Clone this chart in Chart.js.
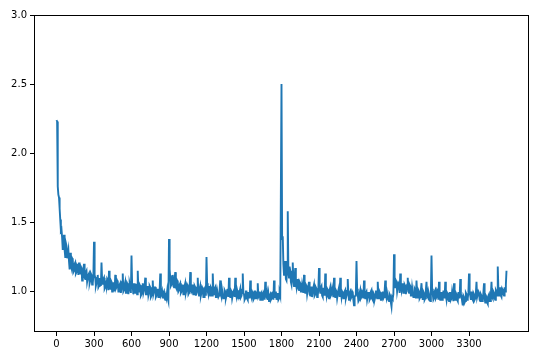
<!DOCTYPE html>
<html>
<head>
<meta charset="utf-8">
<script src="https://cdn.jsdelivr.net/npm/chart.js@4/dist/chart.umd.min.js"></script>
<style>
  body { margin: 0; background: #fff; }
  #wrap { width: 540px; height: 360px; }
</style>
</head>
<body>
<div id="wrap"><canvas id="losschart"></canvas></div>
<script>
// loss: steps 0, 10, 20 ... 3600
var sampleEvery = 10;
var loss = [
  2.24, 1.76, 1.68, 1.52, 1.45, 1.30, 1.41, 1.25, 1.33, 1.24,
  1.22, 1.28, 1.17, 1.23, 1.15, 1.21, 1.14, 1.20, 1.21, 1.13,
  1.17, 1.10, 1.20, 1.09, 1.15, 1.07, 1.13, 1.08, 1.12, 1.06,
  1.36, 1.10, 1.06, 1.12, 1.04, 1.09, 1.21, 1.05, 1.10, 1.03,
  1.04, 1.08, 1.15, 1.02, 1.07, 1.01, 1.06, 1.12, 1.03, 1.07,
  1.00, 1.06, 1.02, 1.13, 1.01, 1.07, 0.99, 1.05, 1.02, 1.04,
  1.26, 1.03, 1.06, 0.99, 1.05, 1.15, 1.00, 1.04, 0.98, 1.06,
  1.01, 1.10, 0.98, 1.04, 0.99, 1.03, 0.97, 1.08, 1.00, 1.03,
  0.97, 1.02, 0.96, 1.13, 0.98, 0.95, 1.00, 0.94, 0.96, 0.95,
  1.38, 1.10, 1.05, 1.12, 1.03, 1.14, 1.02, 1.07, 1.01, 1.06,
  1.00, 1.05, 0.98, 1.06, 1.01, 1.04, 0.99, 1.14, 1.00, 1.05,
  0.98, 1.03, 1.00, 1.10, 0.97, 1.04, 0.99, 1.02, 0.96, 1.03,
  1.25, 1.00, 1.04, 0.97, 1.02, 1.13, 0.98, 1.03, 0.96, 1.01,
  0.97, 1.08, 0.96, 1.01, 0.95, 1.00, 0.97, 1.02, 1.10, 0.96,
  1.00, 0.95, 1.01, 1.10, 0.96, 0.99, 0.95, 1.02, 0.97, 1.13,
  0.98, 0.95, 1.00, 0.94, 0.99, 1.08, 0.96, 0.99, 0.95, 1.00,
  0.95, 1.06, 0.97, 0.94, 0.99, 0.95, 1.00, 1.07, 0.96, 0.94,
  0.93, 0.98, 0.95, 1.00, 1.08, 0.96, 0.94, 0.99, 0.95, 0.97,
  2.50, 1.40, 1.12, 1.22, 1.08, 1.58, 1.10, 1.15, 1.05, 1.21,
  1.04, 1.17, 1.03, 1.09, 1.01, 1.06, 1.00, 1.05, 1.12, 0.99,
  1.04, 0.98, 1.07, 0.97, 1.03, 0.96, 1.05, 0.98, 1.02, 0.97,
  1.17, 0.99, 1.04, 0.96, 1.02, 1.13, 0.97, 1.01, 0.95, 1.03,
  0.98, 1.02, 1.10, 0.96, 1.00, 0.95, 1.03, 1.10, 0.96, 0.99,
  0.95, 1.01, 0.97, 1.09, 0.94, 1.00, 0.96, 0.99, 0.90, 0.97,
  1.22, 0.98, 0.94, 1.01, 0.96, 0.99, 1.08, 0.95, 1.00, 0.94,
  0.99, 0.95, 1.01, 0.94, 0.98, 0.96, 1.00, 1.07, 0.95, 0.99,
  0.94, 1.00, 0.96, 1.08, 0.95, 0.99, 0.93, 0.97, 0.89, 0.95,
  1.27, 1.03, 1.07, 1.00, 1.05, 1.13, 1.01, 1.06, 0.99, 1.04,
  1.02, 1.10, 0.99, 1.04, 0.97, 1.03, 0.96, 1.01, 1.08, 0.95,
  1.00, 0.96, 1.06, 0.94, 0.99, 0.95, 1.07, 0.96, 0.98, 0.93,
  1.26, 0.98, 0.95, 1.01, 0.96, 1.00, 1.07, 0.94, 0.99, 0.95,
  1.00, 1.07, 0.94, 0.98, 0.93, 0.99, 0.95, 0.97, 1.06, 0.94,
  0.98, 0.93, 0.99, 1.09, 0.97, 0.90, 0.96, 0.93, 0.98, 0.95,
  1.13, 0.97, 1.00, 0.94, 0.98, 0.95, 1.07, 0.96, 0.99, 0.93,
  0.97, 0.94, 1.06, 0.92, 0.96, 0.91, 0.98, 0.93, 1.07, 0.95,
  0.99, 0.94, 1.00, 1.18, 0.97, 1.03, 0.96, 1.01, 0.97, 1.00,
  1.15
];
// loss in between: steps 5, 15, 25 ... 3595
var lossMid = [
  2.23, 1.70, 1.60, 1.44, 1.39, 1.36, 1.30, 1.35, 1.24, 1.30,
  1.16, 1.19, 1.24, 1.14, 1.20, 1.13, 1.19, 1.12, 1.15, 1.18,
  1.08, 1.16, 1.10, 1.14, 1.07, 1.12, 1.06, 1.13, 1.05, 1.11,
  1.12, 1.04, 1.10, 1.03, 1.09, 1.04, 1.08, 1.09, 1.02, 1.08,
  1.09, 1.01, 1.03, 1.08, 1.00, 1.06, 1.00, 1.02, 1.08, 1.00,
  1.05, 0.99, 1.07, 1.00, 1.05, 0.99, 1.06, 0.98, 1.06, 0.99,
  1.05, 0.98, 1.00, 1.05, 0.98, 1.01, 1.05, 0.97, 1.04, 0.99,
  1.04, 0.98, 1.03, 0.97, 1.04, 0.96, 1.02, 0.98, 1.03, 0.96,
  1.01, 0.96, 1.01, 0.97, 1.00, 0.99, 0.95, 0.99, 1.00, 0.93,
  1.16, 1.04, 1.11, 1.04, 1.09, 1.03, 1.08, 1.00, 1.05, 0.99,
  1.04, 0.98, 1.04, 0.99, 1.05, 0.98, 1.03, 1.01, 1.04, 0.98,
  1.04, 0.97, 1.03, 0.99, 1.02, 0.97, 1.03, 0.96, 1.02, 0.97,
  1.06, 0.98, 0.99, 1.03, 0.97, 1.01, 1.02, 0.96, 1.01, 0.96,
  1.01, 0.98, 1.01, 0.95, 1.01, 0.95, 1.01, 0.96, 1.00, 1.01,
  0.95, 1.00, 0.96, 0.98, 1.01, 0.95, 1.00, 0.96, 1.01, 0.99,
  0.94, 1.00, 0.95, 0.99, 0.95, 0.98, 1.00, 0.94, 1.00, 0.95,
  0.99, 0.96, 1.00, 0.98, 0.94, 0.99, 0.94, 0.97, 0.99, 0.98,
  0.97, 0.94, 0.99, 0.94, 0.98, 1.00, 0.98, 0.94, 0.99, 0.97,
  1.38, 1.20, 1.18, 1.09, 1.17, 1.14, 1.18, 1.07, 1.13, 1.08,
  1.10, 1.06, 1.08, 1.02, 1.07, 1.00, 1.05, 0.99, 1.03, 1.05,
  0.98, 1.04, 0.98, 1.03, 0.96, 1.03, 0.97, 1.03, 0.96, 1.02,
  1.03, 1.03, 0.97, 1.02, 0.97, 1.00, 1.02, 0.96, 1.01, 0.97,
  1.02, 0.96, 1.00, 1.01, 0.95, 1.01, 0.96, 1.00, 1.00, 0.95,
  1.00, 0.95, 1.00, 0.98, 0.99, 0.95, 1.00, 0.94, 0.96, 1.00,
  1.02, 0.93, 0.99, 0.95, 1.00, 0.95, 0.98, 0.99, 0.94, 0.99,
  0.94, 1.00, 0.95, 0.99, 0.94, 1.00, 0.95, 0.98, 1.00, 0.94,
  0.99, 0.95, 1.00, 0.97, 0.99, 0.94, 0.98, 0.92, 0.96, 0.98,
  1.08, 1.08, 1.00, 1.06, 0.99, 1.04, 1.05, 0.99, 1.05, 0.98,
  1.05, 1.00, 1.05, 0.97, 1.03, 0.96, 1.02, 0.95, 0.99, 1.01,
  0.95, 1.01, 0.97, 1.00, 0.94, 1.01, 0.97, 1.00, 0.94, 0.99,
  1.02, 0.94, 1.00, 0.95, 1.01, 0.94, 0.98, 0.99, 0.94, 1.00,
  0.95, 0.97, 0.99, 0.94, 0.99, 0.94, 1.00, 0.93, 0.98, 0.99,
  0.94, 0.99, 0.95, 0.98, 0.93, 0.97, 0.92, 0.99, 0.94, 0.99,
  0.99, 0.94, 0.95, 0.99, 0.94, 0.99, 0.96, 1.00, 0.94, 0.98,
  0.93, 0.99, 0.95, 0.97, 0.92, 0.97, 0.93, 0.98, 0.96, 1.00,
  0.95, 1.01, 0.97, 1.02, 0.98, 0.97, 1.02, 0.98, 1.03, 1.05
];
var xTicks = [0, 300, 600, 900, 1200, 1500, 1800, 2100, 2400, 2700, 3000, 3300];
var yTicks = [1.0, 1.5, 2.0, 2.5, 3.0];

var points = [];
loss.forEach(function (v, i) {
  points.push({ x: i * sampleEvery, y: v });
  if (i < lossMid.length) {
    points.push({ x: i * sampleEvery + sampleEvery / 2, y: lossMid[i] });
  }
});

// matplotlib style frame round the plot area
var boxPlugin = {
  id: 'box',
  afterDraw: function (chart) {
    var a = chart.chartArea, c = chart.ctx;
    c.save();
    c.strokeStyle = '#000';
    c.lineWidth = 1;
    c.strokeRect(a.left + 0.5, a.top + 0.5, a.right - a.left - 1, a.bottom - a.top - 1);
    c.restore();
  }
};

var ctx = document.getElementById('losschart');
var myChart = new Chart(ctx, {
  type: 'line',
  data: {
    datasets: [{
      data: points,
      borderColor: '#1f77b4',
      borderWidth: 1.9,
      pointRadius: 0,
      tension: 0,
      fill: false
    }]
  },
  options: {
    responsive: true,
    maintainAspectRatio: false,
    animation: false,
    events: [],
    layout: {
      padding: { left: 0, right: 11, top: 15, bottom: 0 }
    },
    plugins: {
      legend: { display: false },
      tooltip: { enabled: false }
    },
    scales: {
      x: {
        type: 'linear',
        min: -180,
        max: 3780,
        afterBuildTicks: function (s) {
          s.ticks = xTicks.map(function (v) { return { value: v }; });
        },
        afterFit: function (s) { s.height = 28; },
        grid: { drawOnChartArea: false, drawTicks: true, tickLength: 4, color: '#000' },
        border: { display: false },
        ticks: {
          padding: 2,
          maxRotation: 0,
          autoSkip: false,
          color: '#000',
          font: { family: 'DejaVu Sans', size: 10 },
          callback: function (v) { return String(v); }
        }
      },
      y: {
        min: 0.707,
        max: 3.0,
        afterBuildTicks: function (s) {
          s.ticks = yTicks.map(function (v) { return { value: v }; });
        },
        afterFit: function (s) { s.width = 34; },
        grid: { drawOnChartArea: false, drawTicks: true, tickLength: 4, color: '#000' },
        border: { display: false },
        ticks: {
          padding: 3,
          autoSkip: false,
          color: '#000',
          font: { family: 'DejaVu Sans', size: 10 },
          callback: function (v) { return v.toFixed(1); }
        }
      }
    }
  },
  plugins: [boxPlugin]
});
</script>
</body>
</html>
